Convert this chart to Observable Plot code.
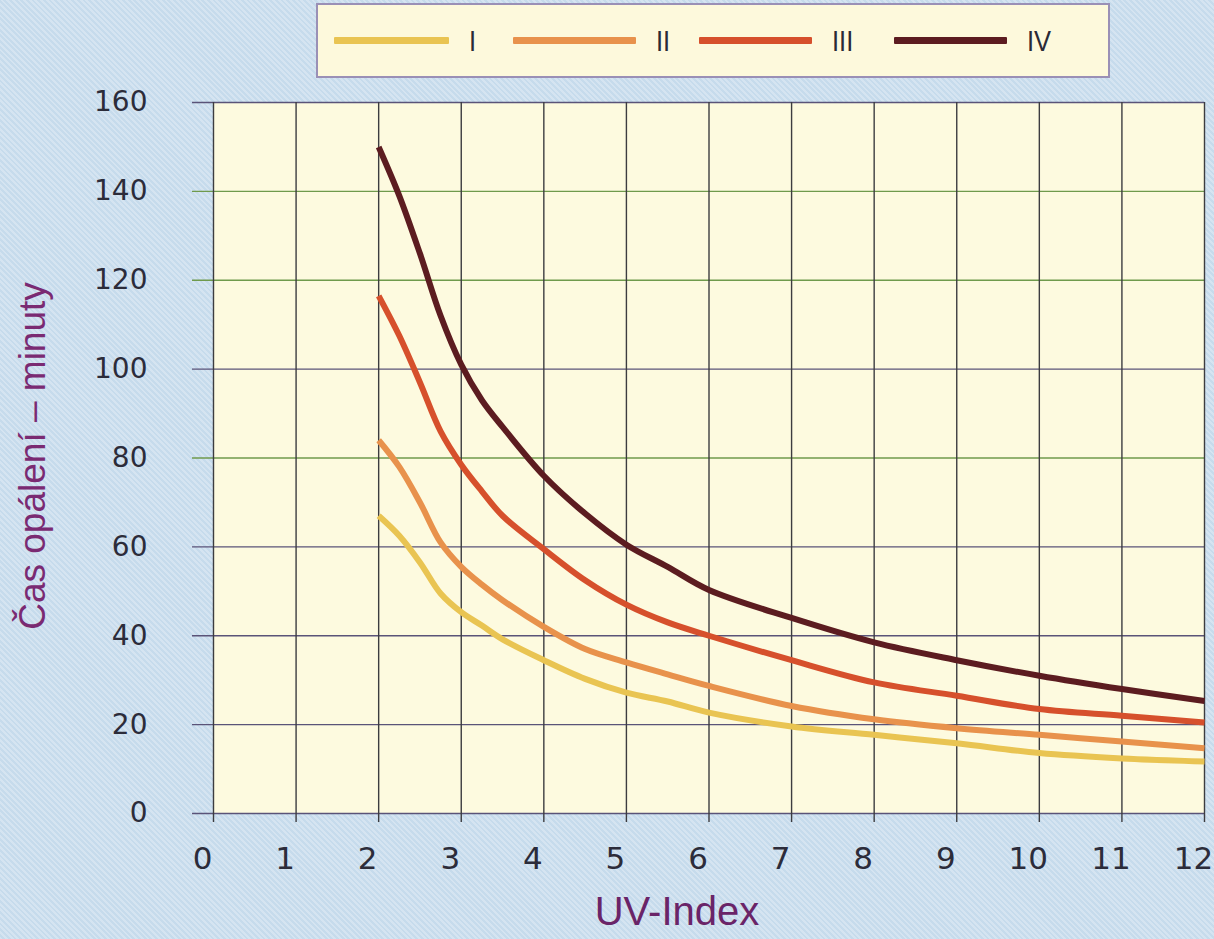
<!DOCTYPE html>
<html>
<head>
<meta charset="utf-8">
<script src="https://cdn.jsdelivr.net/npm/d3@7"></script>
<script src="https://cdn.jsdelivr.net/npm/@observablehq/plot@0.6"></script>
<style>
  html, body { margin: 0; padding: 0; }
  body {
    width: 1214px; height: 939px; overflow: hidden;
    background: repeating-linear-gradient(45deg, #d5e4f1 0px, #d5e4f1 2px, #c6dbec 2px, #c6dbec 4px);
    font-family: "Liberation Sans", Arial, sans-serif;
  }
  #wrap { position: relative; width: 1214px; height: 939px; }
  #chart { position: absolute; left: 0; top: 0; }
  #legend {
    position: absolute; left: 316px; top: 3px; width: 790px; height: 71px;
    background: #fdf9dc; border: 2px solid #9a90b6; box-sizing: content-box;
  }
  .item { position: absolute; top: 0; height: 71px; display: flex; align-items: center; }
  .sw { display: inline-block; height: 7px; border-radius: 1px; }
  .lab { font-size: 30px; color: #2a2a35; margin-left: 20px; transform: scaleX(0.85); transform-origin: left center; }
</style>
</head>
<body>
<div id="wrap">
  <div id="chart"></div>
  <div id="legend"></div>
</div>
<script>
// ---- data ----
const uvIndex = [2, 2.25, 2.5, 2.75, 3, 3.25, 3.5, 4, 4.5, 5, 5.5, 6, 7, 8, 9, 10, 11, 12];
const seriesNames = ["I", "II", "III", "IV"];
const typeI   = [67, 62.5, 56.5, 49.5, 45.3, 42.3, 39.2, 34.5, 30.3, 27.2, 25.2, 22.7, 19.6, 17.7, 15.8, 13.6, 12.4, 11.7];
const typeII  = [84, 78, 70, 61, 55.5, 51.5, 48, 42, 37, 34, 31.3, 28.7, 24.2, 21.2, 19.2, 17.7, 16.2, 14.7];
const typeIII = [116.5, 107.5, 97, 86, 78.5, 72.5, 67, 59.5, 52.5, 47, 43, 40, 34.5, 29.5, 26.5, 23.5, 22, 20.5];
const typeIV  = [150, 139, 126, 112, 101, 93, 87, 76, 67.5, 60.5, 55.5, 50.3, 44, 38.5, 34.5, 31, 28, 25.3];
const xTicks = [0, 1, 2, 3, 4, 5, 6, 7, 8, 9, 10, 11, 12];
const yTicks = [0, 20, 40, 60, 80, 100, 120, 140, 160];
const yGreen = [80, 120, 140];
const xTitle = "UV-Index";
const yTitle = "Čas opálení – minuty";

// ---- styles ----
const colors = { "I": "#e9c452", "II": "#e8924c", "III": "#d6502c", "IV": "#5c1c20" };

const allSeries = [typeI, typeII, typeIII, typeIV];
const rows = seriesNames.flatMap((name, i) =>
  uvIndex.map((x, j) => ({ series: name, uv: x, minutes: allSeries[i][j] })));

const yDark = yTicks.filter(v => !yGreen.includes(v));
const tickFont = "'DejaVu Sans', sans-serif";

const chart = Plot.plot({
  width: 1214,
  height: 939,
  marginLeft: 213,
  marginRight: 10,
  marginTop: 102,
  marginBottom: 126,
  style: { background: "transparent", fontFamily: "'Liberation Sans', Arial, sans-serif", overflow: "visible" },
  x: { domain: [0, 12] },
  y: { domain: [0, 160] },
  marks: [
    Plot.frame({ fill: "#fdfadf", stroke: "none" }),
    Plot.ruleY(yDark, { y: d => d, stroke: "#5a5378", strokeWidth: 1.4, insetLeft: -21 }),
    Plot.ruleY(yGreen, { y: d => d, stroke: "#6f9a4c", strokeWidth: 1.4, insetLeft: -21 }),
    Plot.ruleX(xTicks, { x: d => d, stroke: "#3c3c40", strokeWidth: 1.4, insetBottom: -9 }),
    ...seriesNames.map(name =>
      Plot.line(rows.filter(r => r.series === name), {
        x: "uv", y: "minutes", stroke: colors[name], strokeWidth: 6,
        curve: "catmull-rom", strokeLinecap: "butt"
      })),
    Plot.axisY(yTicks, { tickSize: 0, tickPadding: 66, fontSize: 28, fontFamily: tickFont, fill: "#2c2c3a", label: null }),
    Plot.axisX(xTicks, { tickSize: 0, tickPadding: 33, fontSize: 31, fontFamily: tickFont, fill: "#2c2c3a", dx: -11, label: null }),
    Plot.text([xTitle], { text: d => d, frameAnchor: "bottom", dx: -32, dy: 99, lineAnchor: "middle", fontSize: 40, fill: "#6a2468" }),
    Plot.text([yTitle], { text: d => d, frameAnchor: "left", textAnchor: "middle", dx: -180, dy: -2, rotate: -90, lineAnchor: "middle", fontSize: 37, fill: "#7a2a72" })
  ]
});
document.getElementById("chart").appendChild(chart);

// legend
const legendPos = [ [16, 115], [195, 123], [381, 113], [576, 113] ];
const legend = document.getElementById("legend");
seriesNames.forEach((name, i) => {
  const [left, w] = legendPos[i];
  const item = document.createElement("div");
  item.className = "item";
  item.style.left = left + "px";
  const sw = document.createElement("span");
  sw.className = "sw";
  sw.style.width = w + "px";
  sw.style.background = colors[name];
  const lab = document.createElement("span");
  lab.className = "lab";
  lab.textContent = name;
  item.appendChild(sw);
  item.appendChild(lab);
  legend.appendChild(item);
});
</script>
</body>
</html>
